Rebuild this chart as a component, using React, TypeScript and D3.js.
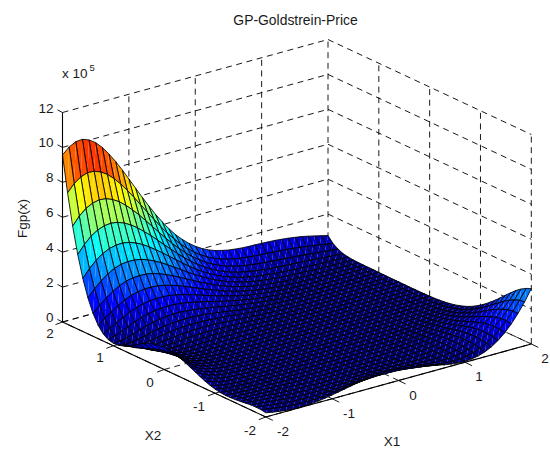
import React from "react";
import * as d3 from "d3";

const TITLE = "GP-Goldstrein-Price";
const x1Ticks = [-2, -1, 0, 1, 2];
const x2Ticks = [-2, -1, 0, 1, 2];
const zTicks = [0, 2, 4, 6, 8, 10, 12];
const x1Grid = [-2,-1.9,-1.8,-1.7,-1.6,-1.5,-1.4,-1.3,-1.2,-1.1,-1,-0.9,-0.8,-0.7,-0.6,-0.5,-0.4,-0.3,-0.2,-0.1,0,0.1,0.2,0.3,0.4,0.5,0.6,0.7,0.8,0.9,1,1.1,1.2,1.3,1.4,1.5,1.6,1.7,1.8,1.9,2];
const x2Grid = [2,1.9,1.8,1.7,1.6,1.5,1.4,1.3,1.2,1.1,1,0.9,0.8,0.7,0.6,0.5,0.4,0.3,0.2,0.1,0,-0.1,-0.2,-0.3,-0.4,-0.5,-0.6,-0.7,-0.8,-0.9,-1,-1.1,-1.2,-1.3,-1.4,-1.5,-1.6,-1.7,-1.8,-1.9,-2];

// Fgp(x) in thousands; one row per x2Grid entry, one column per x1Grid entry.
const fgp: number[][] = [
[957,992,1012,1015,1001,975,937,889,836,777,715,652,590,529,471,418,368,324,286,253,225,202,183,169,159,151,146,142,140,139,137,135,133,129,125,119,113,105,96,87,77],
[753,796,823,837,835,821,796,762,720,674,623,570,518,466,415,367,324,283,248,217,190,167,149,134,123,114,107,102,98,95,93,90,87,84,80,75,70,64,58,51,45],
[576,623,657,676,685,681,666,643,612,576,536,493,449,405,362,320,282,246,214,186,161,140,122,107,96,86,79,73,69,65,62,59,56,53,50,46,42,38,34,30,26],
[427,474,511,536,550,554,549,534,513,486,454,421,385,348,312,277,243,212,184,158,136,117,100,86,75,66,59,53,48,44,41,38,36,33,31,28,25,22,19,17,14],
[304,349,387,415,433,442,444,437,423,404,380,353,325,295,265,235,207,180,156,134,114,97,82,70,59,51,44,38,34,30,27,25,22,20,18,16,14,12,11,9,8],
[206,247,283,312,333,346,351,350,343,330,313,293,270,246,222,197,174,152,131,112,95,80,67,56,47,39,33,28,24,20,18,15,14,12,10,9,8,7,6,5,5],
[131,167,199,226,248,263,272,274,272,265,253,238,221,202,183,163,144,125,108,92,77,65,54,44,36,30,24,20,16,14,11,10,8,7,6,5,4,4,4,3,4],
[77,105,133,158,179,195,205,211,211,208,201,190,178,163,148,132,117,102,88,74,62,52,43,35,28,22,18,14,11,9,7,6,5,4,3,3,3,2,2,3,3],
[41,61,83,105,123,139,150,157,160,159,156,149,140,129,118,105,93,81,70,59,49,41,33,27,21,17,13,10,8,6,5,4,3,2,2,2,2,2,2,2,3],
[21,33,48,65,81,95,106,114,118,120,118,114,108,100,92,82,73,63,54,46,38,31,25,20,16,12,9,7,5,4,3,2,2,1,1,1,1,1,2,2,3],
[14,16,25,37,50,62,72,79,85,87,87,85,81,76,70,63,55,48,41,35,29,23,19,15,11,9,6,5,3,3,2,1,1,1,1,1,1,1,2,2,2],
[16,11,13,19,28,38,46,53,58,61,62,62,59,56,52,47,41,36,30,25,21,17,13,10,8,6,4,3,2,2,1,1,1,1,1,1,1,1,2,2,2],
[26,12,8,10,14,21,28,33,38,41,43,43,42,40,37,34,30,26,22,18,15,12,9,7,5,4,3,2,2,1,1,1,1,1,1,1,1,1,1,1,1],
[41,20,9,6,7,11,15,20,24,27,29,29,29,28,26,23,21,18,15,12,10,8,6,5,3,3,2,1,1,1,1,1,1,1,1,1,1,1,1,1,1],
[58,31,15,7,4,5,8,11,14,16,18,19,19,18,17,16,14,12,10,8,7,5,4,3,2,2,1,1,1,1,1,1,1,1,1,1,1,1,1,1,1],
[76,43,22,11,5,3,4,5,7,9,11,12,12,12,11,10,9,8,6,5,4,3,2,2,1,1,1,1,1,1,1,1,1,1,1,1,1,1,1,0,0],
[93,55,31,16,7,3,2,2,3,5,6,7,7,7,7,6,6,5,4,3,3,2,2,1,1,1,1,1,1,1,1,1,1,1,1,1,1,0,0,0,0],
[107,66,39,22,11,5,2,1,2,2,3,4,4,4,4,4,3,3,2,2,2,1,1,1,1,1,1,1,1,1,1,1,1,1,1,1,0,0,0,0,0],
[118,75,46,27,15,7,3,1,1,1,1,2,2,2,2,2,2,2,1,1,1,1,1,1,1,1,1,1,1,1,1,1,1,1,1,0,0,0,0,0,0],
[124,81,51,31,18,9,5,2,1,1,1,1,1,1,1,1,1,1,1,1,1,1,1,1,1,1,1,1,1,1,1,1,1,0,0,0,0,0,0,0,1],
[127,84,54,33,20,11,6,3,1,0,0,0,0,0,0,1,1,1,1,1,1,1,1,1,1,1,1,1,1,1,1,1,0,0,0,0,0,0,1,1,2],
[125,83,54,34,21,12,6,3,2,1,0,0,0,0,0,0,0,0,0,0,1,1,1,1,1,1,1,1,1,1,0,0,0,0,0,0,0,1,1,2,3],
[119,80,52,33,20,12,7,4,2,1,0,0,0,0,0,0,0,0,0,0,1,1,1,1,1,1,1,1,1,0,0,0,0,0,0,1,1,2,3,4,6],
[109,73,48,31,19,11,6,3,2,1,0,0,0,0,0,0,0,0,0,0,0,1,1,1,1,1,1,0,0,0,0,0,0,0,1,2,2,4,5,7,9],
[98,65,42,27,17,10,6,3,2,1,0,0,0,0,0,0,0,0,0,0,0,0,0,0,0,0,0,0,0,0,0,0,1,1,2,3,5,6,8,11,14],
[84,56,36,23,14,8,5,3,2,1,0,0,0,0,0,0,0,0,0,0,0,0,0,0,0,0,0,0,0,0,0,1,2,3,4,6,8,10,13,16,20],
[70,46,29,18,11,7,4,2,1,1,1,0,0,0,0,0,0,0,0,0,0,0,0,0,0,0,0,0,0,1,1,2,3,4,6,9,12,15,19,24,29],
[56,36,23,14,9,5,3,2,1,1,1,1,0,0,0,0,0,0,0,0,0,0,0,0,0,0,0,0,1,1,2,3,5,7,10,13,17,22,27,33,39],
[43,28,18,11,7,5,3,2,2,1,1,1,1,0,0,0,0,0,0,0,0,0,0,0,0,0,0,1,1,2,3,5,8,11,14,19,24,30,37,44,52],
[32,21,13,9,6,4,3,3,2,2,2,1,1,1,0,0,0,0,0,0,0,0,0,0,0,0,1,1,2,3,5,8,11,15,20,25,32,40,48,58,68],
[24,16,11,8,6,5,4,4,3,3,2,2,1,1,0,0,0,0,0,0,0,0,0,0,0,0,1,2,3,5,7,10,14,19,26,33,41,51,62,74,87],
[18,13,10,8,7,6,5,5,4,3,3,2,1,1,1,0,0,0,0,0,0,0,0,0,0,1,1,2,4,6,9,13,18,25,32,41,52,64,77,92,108],
[16,12,11,9,8,8,7,6,5,4,3,2,1,1,0,0,0,0,0,0,0,0,0,0,0,1,1,3,5,7,11,16,22,30,39,50,63,78,94,112,132],
[16,14,13,12,10,9,8,7,5,4,3,2,1,1,0,0,0,0,0,0,0,0,0,0,0,1,2,3,5,8,13,18,26,35,46,60,75,93,112,134,157],
[18,17,15,14,12,11,9,7,5,4,2,1,1,0,0,0,0,1,1,1,1,1,1,0,0,1,1,3,5,9,13,20,29,39,53,68,86,107,131,157,185],
[21,20,18,16,14,11,9,6,4,3,2,1,0,0,1,1,1,2,2,2,2,2,1,1,1,1,1,2,5,8,13,21,30,43,58,76,97,121,149,179,213],
[25,23,20,17,14,11,8,5,3,2,1,0,1,1,2,3,4,4,5,5,5,5,4,3,2,1,1,2,4,7,12,20,31,44,61,81,106,133,165,201,240],
[29,25,21,17,13,9,6,3,2,1,1,1,2,4,6,7,9,10,11,11,11,10,8,7,5,3,2,2,3,6,11,18,29,44,62,84,112,143,179,220,266],
[30,25,19,14,10,6,3,2,1,1,3,5,7,10,13,16,18,20,21,21,21,19,17,14,11,8,5,3,3,4,8,15,26,41,60,84,114,149,190,236,288],
[29,22,16,11,6,3,2,2,3,5,9,13,18,23,28,32,35,38,39,39,38,36,32,27,22,17,12,7,5,4,6,11,21,35,55,81,112,151,196,247,305],
[24,17,11,6,3,2,3,5,9,15,22,29,37,45,52,59,63,67,69,69,67,63,57,50,42,33,25,17,11,6,5,8,15,28,47,73,106,147,196,252,317],
];

const FONT = "'Liberation Sans', Arial, sans-serif";
const INK = "#1a1a1a";

// Projection of the 3-D box on to the page, as three linear scales.
const x1ToPx = d3.scaleLinear().domain([-2, 2]).range([0, 265.5]);
const x1ToPy = d3.scaleLinear().domain([-2, 2]).range([0, -73]);
const x2ToPx = d3.scaleLinear().domain([-2, 2]).range([0, -203.3]);
const x2ToPy = d3.scaleLinear().domain([-2, 2]).range([0, -95]);
const zToPy = d3.scaleLinear().domain([0, 12]).range([0, -209.5]);
const FRONT = { x: 265.8, y: 417 };

type P = [number, number];
const project = (a: number, b: number, z: number): P => [
  FRONT.x + x1ToPx(a) + x2ToPx(b),
  FRONT.y + x1ToPy(a) + x2ToPy(b) + zToPy(z),
];

const jetColor = (t: number) => {
  const v = (Math.min(63, Math.floor(t * 64)) + 0.5) / 64;
  const ch = (c: number) => Math.round(255 * Math.max(0, Math.min(1, 1.5 - Math.abs(4 * v - c))));
  return d3.rgb(ch(3), ch(2), ch(1)).formatHex();
};
const zExtent = d3.extent(fgp.flat()) as [number, number];
const colorT = d3.scaleLinear().domain(zExtent).range([0, 1]).clamp(true);

const line = d3.line<P>();

function Seg({ a, b, dash, w = 0.9 }: { a: P; b: P; dash?: boolean; w?: number }) {
  return <path d={line([a, b]) as string} fill="none" stroke="#000" strokeWidth={w} strokeDasharray={dash ? "6 4.6" : undefined} />;
}

function Surface() {
  const out: React.ReactNode[] = [];
  // far to near: x2 high to low, x1 high to low
  for (let r = 0; r < x2Grid.length - 1; r++) {
    for (let c = x1Grid.length - 2; c >= 0; c--) {
      const rN = r + 1; // nearer row (lower x2)
      const pA = project(x1Grid[c], x2Grid[rN], fgp[rN][c] / 100);
      const pB = project(x1Grid[c + 1], x2Grid[rN], fgp[rN][c + 1] / 100);
      const pC = project(x1Grid[c + 1], x2Grid[r], fgp[r][c + 1] / 100);
      const pD = project(x1Grid[c], x2Grid[r], fgp[r][c] / 100);
      const col = jetColor(colorT(fgp[rN][c]));
      out.push(
        <g key={`${r}-${c}`}>
          <path d={(line([pA, pB, pC]) as string) + "Z"} fill={col} />
          <path d={(line([pA, pC, pD]) as string) + "Z"} fill={col} />
          <path d={(line([pA, pB, pC, pD]) as string) + "Z"} fill="none" stroke="#000" strokeWidth={0.85} />
        </g>
      );
    }
  }
  return <g>{out}</g>;
}

const x1Labels: [number, number, number][] = [[-2, 283, 431], [-1, 349, 413], [0, 413, 395], [1, 479, 376], [2, 545, 358]];
const x2Labels: [number, number, number][] = [[2, 50, 333], [1, 100, 357], [0, 150, 382], [-1, 199, 406], [-2, 250, 430]];

export default function App() {
  const txt = { fontFamily: FONT, fontSize: 13.5, fill: INK };
  return (
    <svg width={550} height={449} style={{ position: "absolute", left: 0, top: 0, background: "#fff" }}>
      {/* back walls */}
      {zTicks.map((z) => (
        <g key={"gz" + z}>
          <Seg a={project(-2, 2, z)} b={project(2, 2, z)} dash />
          <Seg a={project(2, 2, z)} b={project(2, -2, z)} dash />
        </g>
      ))}
      {x1Ticks.slice(1).map((v) => <Seg key={"w1" + v} a={project(v, 2, 0)} b={project(v, 2, 12)} dash />)}
      {x2Ticks.slice(0, 4).map((v) => <Seg key={"w2" + v} a={project(2, v, 0)} b={project(2, v, 12)} dash />)}
      {/* floor grid */}
      {x1Ticks.map((v) => <Seg key={"f1" + v} a={project(v, -2, 0)} b={project(v, 2, 0)} dash />)}
      {x2Ticks.map((v) => <Seg key={"f2" + v} a={project(-2, v, 0)} b={project(2, v, 0)} dash />)}

      <Surface />

      {/* axes */}
      <Seg a={project(-2, 2, 0)} b={project(-2, 2, 12)} w={1.1} />
      <Seg a={project(-2, 2, 0)} b={project(-2, -2, 0)} w={1.1} />
      <Seg a={project(-2, -2, 0)} b={project(2, -2, 0)} w={1.1} />
      {zTicks.map((z) => {
        const p = project(-2, 2, z);
        return <Seg key={"tz" + z} a={p} b={[p[0] - 5, p[1] - 2.6]} />;
      })}
      {x2Ticks.map((v) => {
        const p = project(-2, v, 0);
        return <Seg key={"t2" + v} a={p} b={[p[0] - 7, p[1] + 2.6]} />;
      })}
      {x1Ticks.map((v) => {
        const p = project(v, -2, 0);
        return <Seg key={"t1" + v} a={p} b={[p[0] + 7, p[1] + 3.4]} />;
      })}

      {/* text */}
      <text x={295.5} y={25} textAnchor="middle" {...txt} fontSize={13.9}>{TITLE}</text>
      <text x={62} y={78} {...txt}>x 10</text>
      <text x={89.5} y={71} {...txt} fontSize={9.5}>5</text>
      {zTicks.map((z) => (
        <text key={"lz" + z} x={53.5} y={project(-2, 2, z)[1]} textAnchor="end" {...txt}>{z}</text>
      ))}
      {x1Labels.map(([v, x, y]) => <text key={"l1" + v} x={x} y={y + 4.5} textAnchor="middle" {...txt}>{v}</text>)}
      {x2Labels.map(([v, x, y]) => <text key={"l2" + v} x={x} y={y + 4.5} textAnchor="middle" {...txt}>{v}</text>)}
      <text x={153} y={440} textAnchor="middle" {...txt}>X2</text>
      <text x={392} y={446} textAnchor="middle" {...txt}>X1</text>
      <text transform="translate(27,218.5) rotate(-90)" textAnchor="middle" {...txt}>Fgp(x)</text>
    </svg>
  );
}
